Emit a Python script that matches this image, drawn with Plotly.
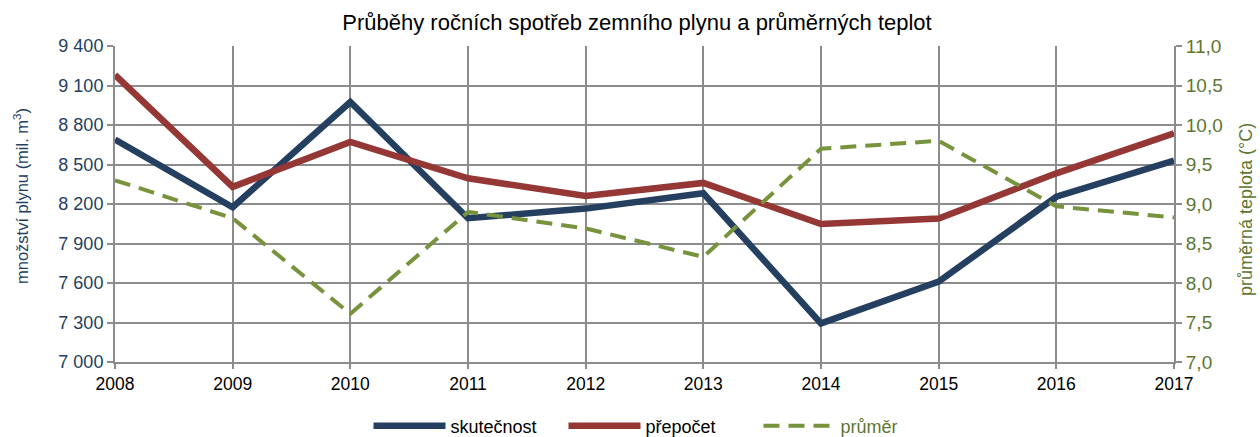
import plotly.graph_objects as go

years = [2008, 2009, 2010, 2011, 2012, 2013, 2014, 2015, 2016, 2017]
skutecnost = [8690, 8175, 8975, 8092, 8165, 8282, 7293, 7610, 8255, 8530]
prepocet = [9180, 8330, 8672, 8395, 8261, 8360, 8048, 8090, 8433, 8737]
prumer = [9.30, 8.82, 7.61, 8.90, 8.69, 8.33, 9.70, 9.80, 8.97, 8.83]

left_ticks = list(range(7000, 9401, 300))
right_ticks = [7.0, 7.5, 8.0, 8.5, 9.0, 9.5, 10.0, 10.5, 11.0]

NAVY = "#243F60"
RED = "#953735"
GREEN = "#77933C"
GREEN_TXT = "#5E7631"
GRID = "#8C8C8C"
FONT = "Liberation Sans, Arial"

W, H = 1260, 437
ML, MR, MT, MB = 115, 86, 46, 75
PW = W - ML - MR

fig = go.Figure()
fig.add_trace(go.Scatter(x=years, y=skutecnost, mode="lines", name="skutečnost",
                         line=dict(color=NAVY, width=6.5), yaxis="y"))
fig.add_trace(go.Scatter(x=years, y=prepocet, mode="lines", name="přepočet",
                         line=dict(color=RED, width=6.5), yaxis="y"))
fig.add_trace(go.Scatter(x=years, y=prumer, mode="lines",
                         name="<span style='color:%s'>průměr</span>" % GREEN_TXT,
                         line=dict(color=GREEN, width=4, dash="16px,9px"), yaxis="y2"))

fig.update_layout(
    width=W, height=H,
    margin=dict(l=ML, r=MR, t=MT, b=MB, autoexpand=False),
    paper_bgcolor="white", plot_bgcolor="white",
    separators=", ",
    font=dict(family=FONT, size=16, color="black"),
    title=dict(text="Průběhy ročních spotřeb zemního plynu a průměrných teplot",
               x=(637 / W), xanchor="center", y=1 - 22 / H, yanchor="middle",
               font=dict(size=22, color="black")),
    xaxis=dict(range=[2008, 2017], tickmode="array", tickvals=years,
               ticktext=[str(y) for y in years], automargin=False,
               showgrid=True, gridcolor=GRID, gridwidth=2,
               showline=True, linecolor=GRID, linewidth=2,
               ticks="outside", ticklen=5, tickcolor=GRID, tickwidth=2,
               zeroline=False, tickfont=dict(size=17.5, color="black")),
    yaxis=dict(range=[7000, 9400], tickmode="array", tickvals=left_ticks,
               tickformat=",d", showgrid=True, gridcolor=GRID, gridwidth=2,
               showline=True, linecolor=GRID, linewidth=2, automargin=False,
               ticks="outside", ticklen=6, tickcolor=GRID, tickwidth=2, zeroline=False,
               tickfont=dict(size=18, color=NAVY)),
    yaxis2=dict(range=[7, 11], tickmode="array", tickvals=right_ticks,
                tickformat=".1f", overlaying="y", side="right", automargin=False,
                showgrid=False, showline=True, linecolor=GRID, linewidth=2,
                ticks="outside", ticklen=6, tickcolor=GRID, tickwidth=2, zeroline=False,
                tickfont=dict(size=19, color=GREEN_TXT)),
    legend=dict(orientation="h", x=0.5 + (661 - (ML + PW / 2)) / PW, xanchor="center",
                yref="container", y=11 / H, yanchor="middle",
                font=dict(size=18, color="black"), itemwidth=72,
                entrywidth=108, entrywidthmode="pixels",
                traceorder="normal"),
    annotations=[
        dict(text="množství plynu (mil. m<sup>3</sup>)", textangle=-90,
             xref="paper", yref="paper", x=(21 - ML) / PW, y=0.5 + (204 - 196) / 316,
             xanchor="center", yanchor="middle", showarrow=False,
             font=dict(size=16.5, color=NAVY)),
        dict(text="průměrná teplota (°C)", textangle=-90,
             xref="paper", yref="paper", x=(1246 - ML) / PW, y=0.5 - (210 - 204) / 316,
             xanchor="center", yanchor="middle", showarrow=False,
             font=dict(size=18, color=GREEN_TXT)),
    ],
)

fig.write_html("out.html", config={"displayModeBar": False},
               post_script="document.body.style.margin='0px';")
